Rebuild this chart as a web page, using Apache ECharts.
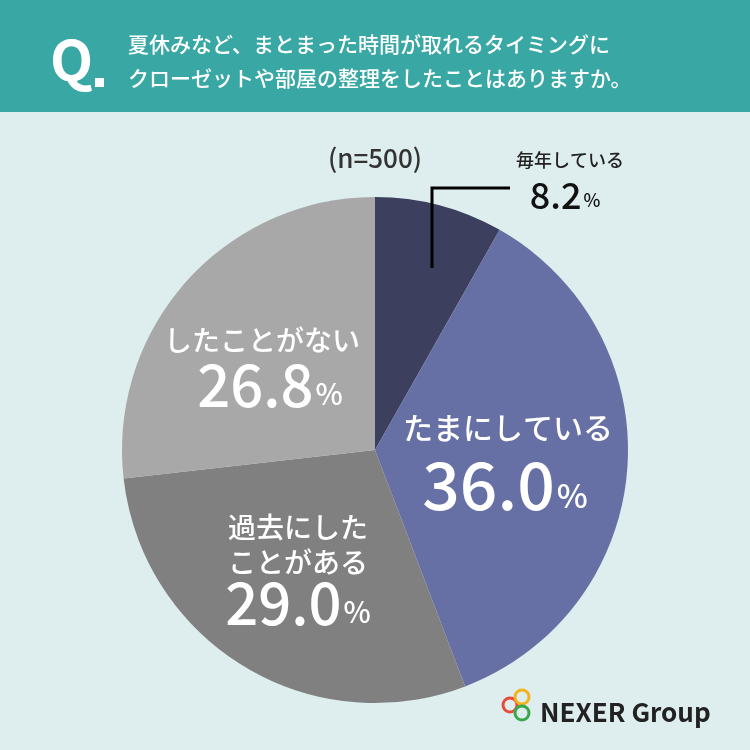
<!DOCTYPE html>
<html><head><meta charset="utf-8">
<script src="https://cdn.jsdelivr.net/npm/echarts@6/dist/echarts.min.js"></script>
<style>html,body{margin:0;padding:0;background:#deedee}#c{width:750px;height:750px}</style>
</head><body><div id="c"></div>
<script>
const categories = ['毎年している','たまにしている','過去にしたことがある','したことがない'];
const values = [8.2, 36.0, 29.0, 26.8];
const colors = ['#3c3f5d','#6770a4','#808080','#a8a8a8'];
const title1 = '夏休みなど、まとまった時間が取れるタイミングに';
const title2 = 'クローゼットや部屋の整理をしたことはありますか。';
const F = '"Noto Sans CJK JP","Noto Sans",sans-serif';
const chart = echarts.init(document.getElementById('c'));
function txt(x,y,t,size,col){return {type:'text',z:100,x:x,y:y,style:{text:t,font:'500 '+size+'px '+F,fill:col,textAlign:'center',textVerticalAlign:'middle'}};}
function num(x,y,v,big,col){return {type:'text',z:100,x:x,y:y,style:{text:'{a|'+v.toFixed(1)+'}{b|%}',textAlign:'center',textVerticalAlign:'middle',rich:{a:{font:'500 '+big+'px '+F,fill:col},b:{font:'500 '+Math.round(big*0.5)+'px '+F,fill:col,padding:[Math.round(big*0.3),0,0,2]}}}};}
chart.setOption({
  backgroundColor:'#deedee',
  graphic:[
    {type:'rect',z:100,shape:{x:0,y:0,width:750,height:112},style:{fill:'#39a8a5'}},
    {type:'text',z:101,x:50,y:60,style:{text:'Q',font:'bold 56px '+F,fill:'#fff',textVerticalAlign:'middle'}},
    {type:'rect',z:101,shape:{x:95,y:78,width:9,height:9},style:{fill:'#fff'}},
    {type:'text',z:101,x:128,y:44,style:{text:title1,font:'500 21px '+F,fill:'#fff',textVerticalAlign:'middle'}},
    {type:'text',z:101,x:128,y:78,style:{text:title2,font:'500 21px '+F,fill:'#fff',textVerticalAlign:'middle'}},
    txt(375,158,'(n=500)',26,'#333'),
    {type:'polyline',z:100,shape:{points:[[432,268],[432,188],[510,188]]},style:{stroke:'#000',lineWidth:3,fill:null}},
    txt(570,160,categories[0],18,'#222'),
    num(565,195,values[0],36,'#111'),
    txt(508,428,'たまにしている',30,'#fff'),
    num(505,485,values[1],66,'#fff'),
    txt(298,527,'過去にした',28,'#fff'),
    txt(298,562,'ことがある',28,'#fff'),
    num(298,603,values[2],58,'#fff'),
    txt(262,340,'したことがない',28,'#fff'),
    num(270,385,values[3],58,'#fff'),
    {type:'circle',z:100,shape:{cx:510,cy:705,r:7},style:{fill:null,stroke:'#e84a3c',lineWidth:3}},
    {type:'circle',z:100,shape:{cx:522,cy:697,r:7},style:{fill:null,stroke:'#f2b31c',lineWidth:3}},
    {type:'circle',z:100,shape:{cx:522,cy:713,r:7},style:{fill:null,stroke:'#3aa84a',lineWidth:3}},
    {type:'text',z:100,x:540,y:712,style:{text:'NEXER Group',font:'bold 26px '+F,fill:'#222',textVerticalAlign:'middle'}}
  ],
  series:[{type:'pie',z:1,center:[375,450],radius:[0,253],startAngle:90,clockwise:true,silent:true,
    label:{show:false},labelLine:{show:false},
    data:categories.map((c,i)=>({name:c,value:values[i],itemStyle:{color:colors[i]}}))}]
});
</script></body></html>
